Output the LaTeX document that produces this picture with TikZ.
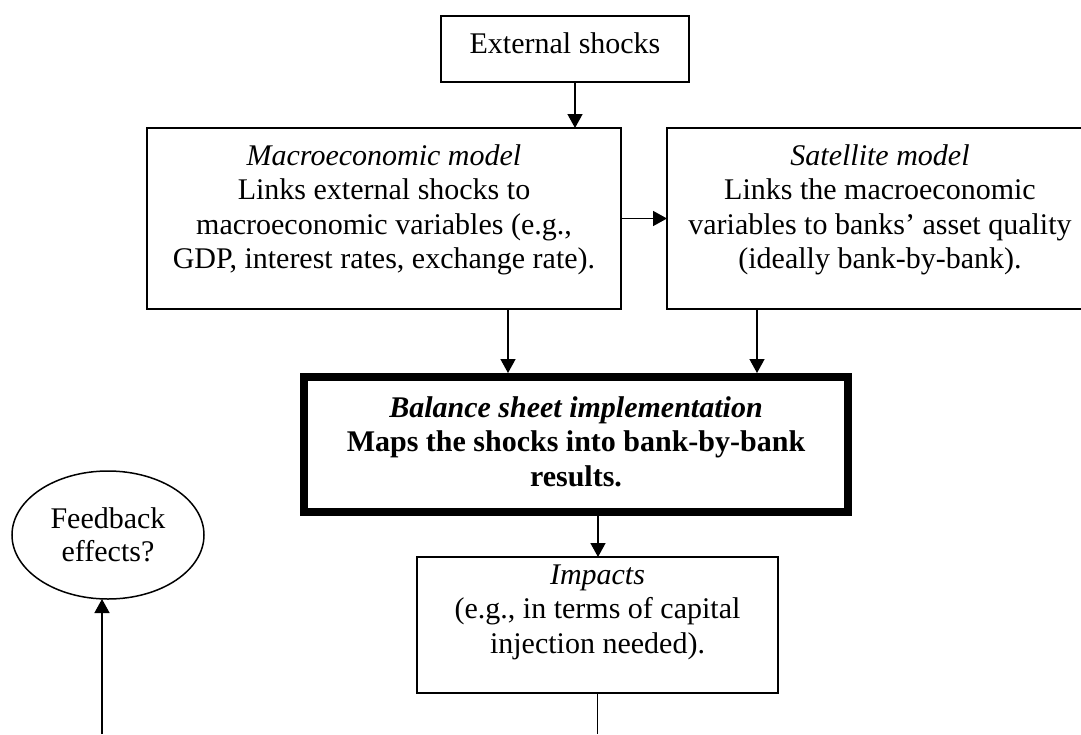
\documentclass[tikz,border=0pt]{standalone}
\usepackage{fontspec}
\setmainfont{Liberation Serif}
\usetikzlibrary{arrows.meta,shapes.geometric}

\tikzset{
  txt/.style={inner sep=0pt, align=center, font=\fontsize{30}{34.5}\selectfont},
  box/.style={draw, line width=1.5pt, inner sep=0pt, outer sep=0pt},
  heavybox/.style={draw, line width=8pt, inner sep=0pt, outer sep=4pt},
  oval/.style={draw, ellipse, line width=1.5pt, inner sep=0pt, outer sep=0pt,
    minimum width=192pt, minimum height=128pt, align=center,
    font=\fontsize{30}{33}\selectfont},
  arr/.style={line width=1.5pt, -{Triangle[length=14pt,width=15pt]}},
  plain/.style={line width=1.5pt}
}

\begin{document}
\begin{tikzpicture}[x=1pt,y=-1pt]
\clip (0,0) rectangle (1081,734);
\fill[white] (0,0) rectangle (1081,734);

% frames
\node[box, minimum width=248pt, minimum height=66pt] (ext) at (565,49) {};
\node[box, minimum width=474pt, minimum height=181pt] (macro) at (384,218.5) {};
\node[box, minimum width=426pt, minimum height=181pt] (sat) at (880,218.5) {};
\node[heavybox, minimum width=544pt, minimum height=135pt] (bal) at (576,444.5) {};
\node[box, minimum width=361pt, minimum height=136pt] (imp) at (597.5,625) {};
\node[oval] (fb) at (108,535) {Feedback\\effects?};

% texts, placed by the baseline of their last line
\node[txt, anchor=base] (exttxt) at (565,53) {External shocks};
\node[txt, anchor=base] (macrotxt) at (384,268.5)
  {\textit{Macroeconomic model}\\Links external shocks to\\macroeconomic variables (e.g.,\\GDP, interest rates, exchange rate).};
\node[txt, anchor=base] (sattxt) at (880,268.5)
  {\textit{Satellite model}\\Links the macroeconomic\\variables to banks’ asset quality\\(ideally bank-by-bank).};
\node[txt, anchor=base, font=\fontsize{30}{34.5}\selectfont\bfseries] (baltxt) at (576,486)
  {\textit{Balance sheet implementation}\\Maps the shocks into bank-by-bank\\results.};
\node[txt, anchor=base] (imptxt) at (597.5,653)
  {\textit{Impacts}\\(e.g., in terms of capital\\injection needed).};

% loose ends at the lower edge
\coordinate (impend) at (597.5,734);
\coordinate (fbstart) at (102,734);

% connectors
\draw[arr] ([xshift=10pt]ext.south) -- ([xshift=10pt]ext.south |- macro.north);
\draw[arr] (macro.east) -- (sat.west);
\draw[arr] ([xshift=124pt]macro.south) -- ([xshift=124pt]macro.south |- bal.north);
\draw[arr] ([xshift=-123pt]sat.south) -- ([xshift=-123pt]sat.south |- bal.north);
\draw[arr] ([xshift=22pt]bal.south) -- ([xshift=22pt]bal.south |- imp.north);
\draw[plain] (imp.south) -- (impend);
\draw[arr] (fbstart) -- (fbstart |- fb.south);
\end{tikzpicture}
\end{document}
